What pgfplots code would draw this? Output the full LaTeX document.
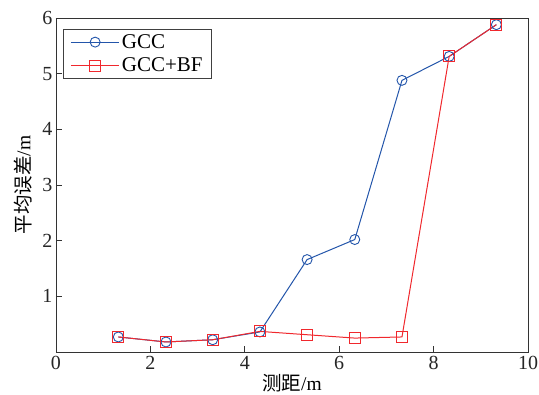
\documentclass[border=0pt]{standalone}
\usepackage{pgfplots}
\pgfplotsset{compat=1.18}
\usepackage{fontspec}
\setmainfont{Liberation Serif}
\newfontfamily\cjk{Noto Sans CJK SC}
\definecolor{gblue}{RGB}{35,85,170}
\definecolor{gred}{RGB}{240,40,45}
\begin{document}
\begin{tikzpicture}
\begin{axis}[
  scale only axis, width=472pt, height=334pt,
  xmin=0, xmax=10, ymin=0, ymax=6,
  xtick={0,2,4,6,8,10}, ytick={1,2,3,4,5,6},
  tick align=inside, xtick pos=bottom, ytick pos=left,
  major tick length=6pt,
  axis line style={black!80, line width=0.9pt},
  tick style={black!80, line width=0.8pt},
  /pgf/number format/assume math mode=true,
  tick label style={font=\fontsize{20}{20}\selectfont, text=black!85},
  xticklabel style={yshift=-1pt},
  xlabel={\cjk 测距\rmfamily/m}, ylabel={\cjk 平均误差\rmfamily/m},
  label style={font=\fontsize{19.5}{19.5}\selectfont},
  xlabel style={at={(axis description cs:0.5,0)}, anchor=center, yshift=-31pt},
  ylabel style={at={(axis description cs:0,0.5)}, anchor=center, yshift=33pt},
  legend style={at={(0.015,0.967)}, anchor=north west, draw=black!75, line width=0.8pt,
    font=\fontsize{21}{21}\selectfont, row sep=4pt, inner xsep=7pt, inner ysep=3pt},
  legend cell align=left,
  legend image code/.code={
    \draw[mark repeat=2,mark phase=2] plot coordinates {(0cm,0cm) (0.85cm,0cm) (1.7cm,0cm)};},
]
\addplot[gblue, line width=1pt, mark=o, mark size=5pt, mark options={line width=0.9pt}] coordinates {
(1.32,0.27) (2.33,0.18) (3.32,0.22) (4.32,0.36) (5.32,1.66) (6.33,2.02) (7.33,4.88) (8.33,5.31) (9.33,5.88)};
\addlegendentry{GCC}
\addplot[gred, line width=1pt, mark=square, mark size=5.5pt, mark options={line width=0.9pt}] coordinates {
(1.32,0.27) (2.33,0.18) (3.32,0.22) (4.32,0.37) (5.32,0.31) (6.33,0.25) (7.33,0.27) (8.33,5.31) (9.33,5.88)};
\addlegendentry{GCC+BF}
\end{axis}
\pgfresetboundingbox
\useasboundingbox (-56pt,-43pt) rectangle (483pt,352pt);
\end{tikzpicture}
\end{document}
